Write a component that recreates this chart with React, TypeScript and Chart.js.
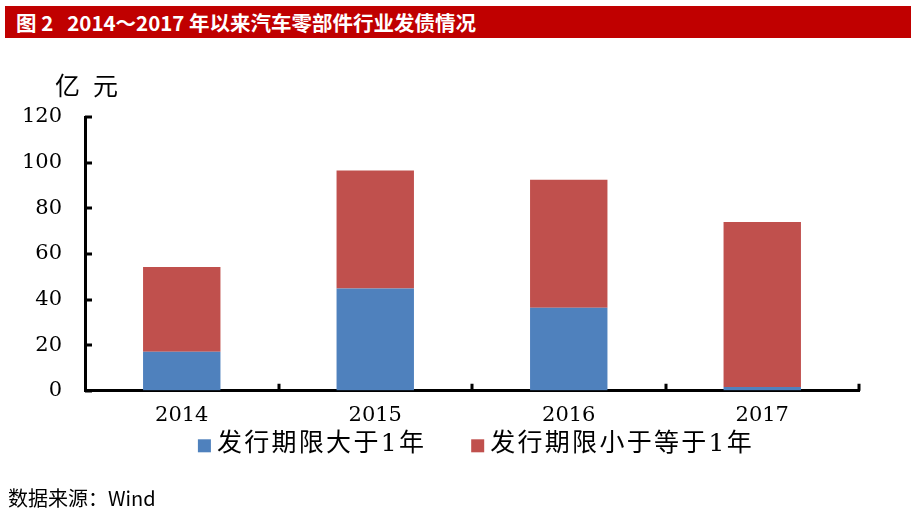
import React, { useEffect, useRef } from 'react';
import { Chart, registerables } from 'chart.js';

Chart.register(...registerables);

const categories = ['2014', '2015', '2016', '2017'];
const seriesNames = ['发行期限大于1年', '发行期限小于等于1年'];
const longTermValues = [17.1, 44.8, 36.4, 1.7];
const shortTermValues = [37.2, 51.8, 56.1, 72.3];
const yTicks = [0, 20, 40, 60, 80, 100, 120];
const unitLabel = '亿元';
const titleText = '图 2   2014～2017 年以来汽车零部件行业发债情况';
const sourceText = '数据来源：Wind';
const seriesColors = ['#4f81bd', '#c0504d'];

const insideTicks = {
  id: 'insideTicks',
  afterDraw(chart: any) {
    const { ctx, chartArea, scales } = chart;
    const xs = scales.x;
    const ys = scales.y;
    ctx.save();
    ctx.strokeStyle = '#000';
    ctx.lineWidth = 3;
    ctx.beginPath();
    ys.ticks.forEach((t: any) => {
      const py = Math.round(ys.getPixelForValue(t.value));
      ctx.moveTo(chartArea.left, py);
      ctx.lineTo(chartArea.left + 7, py);
    });
    const step = xs.getPixelForValue(1) - xs.getPixelForValue(0);
    for (let i = 1; i <= categories.length; i++) {
      const px = Math.round(xs.getPixelForValue(i) - step / 2);
      ctx.moveTo(px, chartArea.bottom);
      ctx.lineTo(px, chartArea.bottom - 7);
    }
    ctx.stroke();
    ctx.restore();
  },
};

const customLegend = {
  id: 'customLegend',
  afterDraw(chart: any) {
    const { ctx, chartArea } = chart;
    ctx.save();
    ctx.font = '25px "DejaVu Serif", "Noto Sans CJK SC"';
    (ctx as any).letterSpacing = '2.3px';
    ctx.textBaseline = 'middle';
    ctx.textAlign = 'left';
    const box = 13;
    const gapBox = 6;
    const gapItem = 45;
    const items = chart.data.datasets.map((ds: any) => ({
      text: ds.label,
      color: ds.backgroundColor,
      w: ctx.measureText(ds.label).width,
    }));
    const total =
      items.reduce((s: number, it: any) => s + box + gapBox + it.w, 0) + gapItem * (items.length - 1);
    let x = (chartArea.left + chartArea.right) / 2 + 4 - total / 2;
    const y = chartArea.bottom + 54;
    items.forEach((it: any) => {
      ctx.fillStyle = it.color;
      ctx.fillRect(x, y - box / 2 + 1, box, box);
      x += box + gapBox;
      ctx.fillStyle = '#000';
      ctx.fillText(it.text, x, y);
      x += it.w + gapItem;
    });
    ctx.restore();
  },
};

function App() {
  const ref = useRef<HTMLCanvasElement | null>(null);

  useEffect(() => {
    if (!ref.current) return;
    const chart = new Chart(ref.current, {
      type: 'bar',
      data: {
        labels: categories,
        datasets: [
          {
            label: seriesNames[0],
            data: longTermValues,
            backgroundColor: seriesColors[0],
            barPercentage: 0.4,
            categoryPercentage: 1,
          },
          {
            label: seriesNames[1],
            data: shortTermValues,
            backgroundColor: seriesColors[1],
            barPercentage: 0.4,
            categoryPercentage: 1,
          },
        ],
      },
      options: {
        animation: false,
        responsive: false,
        devicePixelRatio: 1,
        layout: { padding: { top: 117, right: 57, bottom: 74, left: 0 } },
        plugins: {
          legend: { display: false },
          tooltip: { enabled: false },
        },
        scales: {
          x: {
            stacked: true,
            grid: { display: true, drawOnChartArea: false, drawTicks: false, color: 'rgba(0,0,0,0)' },
            border: { display: true, color: '#000', width: 3 },
            ticks: {
              color: '#000',
              padding: 12,
              font: { family: '"DejaVu Serif"', size: 21 },
            },
          },
          y: {
            stacked: true,
            min: yTicks[0],
            max: yTicks[yTicks.length - 1],
            afterFit: (s: any) => {
              s.width = 85;
            },
            grid: { display: true, drawOnChartArea: false, drawTicks: false, color: 'rgba(0,0,0,0)' },
            border: { display: true, color: '#000', width: 3 },
            ticks: {
              stepSize: yTicks[1] - yTicks[0],
              color: '#000',
              padding: 23,
              font: { family: '"DejaVu Serif"', size: 21 },
            },
          },
        },
      },
      plugins: [insideTicks, customLegend],
    });
    return () => chart.destroy();
  }, []);

  return (
    <div style={{ position: 'absolute', left: 0, top: 0, width: 916, height: 514, background: '#fff', overflow: 'hidden' }}>
      <canvas ref={ref} width={916} height={514} style={{ position: 'absolute', left: 0, top: 0, width: 916, height: 514 }} />
      <div
        style={{
          position: 'absolute',
          left: 5,
          top: 6,
          width: 906,
          height: 32,
          background: '#c00000',
          color: '#fff',
          fontFamily: '"Noto Sans CJK SC", sans-serif',
          fontWeight: 'bold',
          fontSize: 20.5,
          lineHeight: '32px',
          paddingLeft: 11,
          boxSizing: 'border-box',
          whiteSpace: 'pre',
        }}
      >
        {titleText}
      </div>
      <div
        style={{
          position: 'absolute',
          left: 55,
          top: 70,
          fontFamily: '"Noto Sans CJK SC", sans-serif',
          fontSize: 25,
          lineHeight: '28px',
          letterSpacing: 13,
          color: '#000',
          whiteSpace: 'pre',
        }}
      >
        {unitLabel}
      </div>
      <div
        style={{
          position: 'absolute',
          left: 8,
          top: 486,
          fontFamily: '"Noto Sans CJK SC", sans-serif',
          fontSize: 20,
          lineHeight: '24px',
          color: '#000',
          whiteSpace: 'pre',
        }}
      >
        {sourceText}
      </div>
    </div>
  );
}

export default App;
